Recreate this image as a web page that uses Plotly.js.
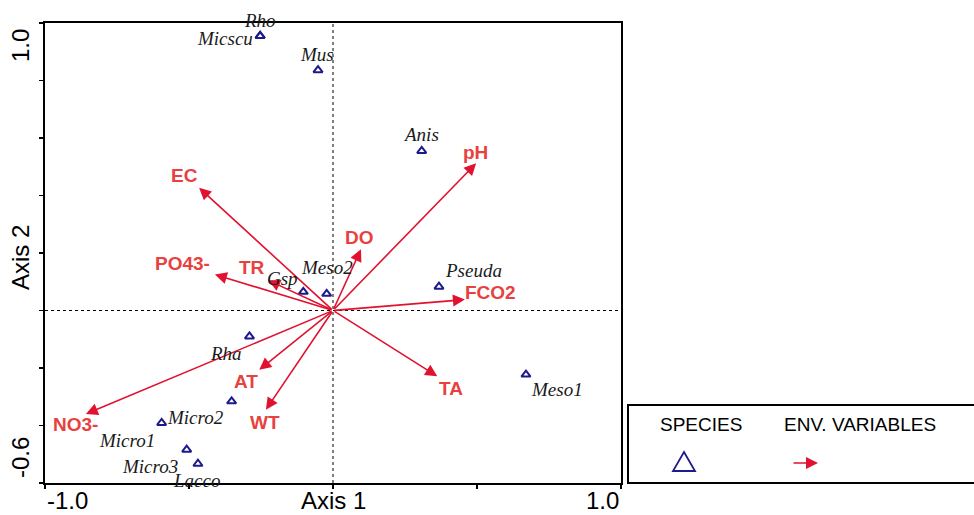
<!DOCTYPE html>
<html>
<head>
<meta charset="utf-8">
<script src="https://cdn.plot.ly/plotly-3.0.1.min.js"></script>
<style>html,body{margin:0;padding:0;background:#fff;}#chart{width:974px;height:515px;}</style>
</head>
<body>
<div id="chart"></div>
<script>
// ---- data ----
const speciesNames = ['Rho','Micscu','Mus','Anis','Pseuda','Meso1','Meso2','Gsp','Rha','Micro1','Micro2','Micro3','Lacco'];
const speciesX = [-0.253,-0.253,-0.052,0.308,0.368,0.670,-0.022,-0.103,-0.290,-0.595,-0.352,-0.508,-0.469];
const speciesY = [0.955,0.955,0.836,0.555,0.083,-0.223,0.058,0.065,-0.090,-0.391,-0.316,-0.484,-0.533];

const envNames = ['EC','pH','DO','PO43-','TR','NO3-','AT','WT','FCO2','TA'];
const envX = [-0.465,0.497,0.097,-0.410,-0.225,-0.858,-0.256,-0.233,0.458,0.362];
const envY = [0.427,0.512,0.213,0.125,0.105,-0.360,-0.206,-0.345,0.038,-0.229];

const xTickVals = [-1.0,-0.5,0,0.5,1.0];
const yTickVals = [-0.6,-0.4,-0.2,0,0.2,0.4,0.6,0.8,1.0];
const xEndLabels = ['-1.0','1.0'];
const yEndLabels = ['-0.6','1.0'];
const legendLabels = ['SPECIES','ENV. VARIABLES'];

// ---- label placement (pixel offsets, styling only) ----
const speciesLabelShift = [[0,15.5],[-35,-3],[-1,15.5],[-1,16.7],[34.5,16],[31,-15],[0,26],[-21,13],[-23,-17],[-35,-18],[-36,-16],[-37,-17],[-1,-16.5]];
const envLabelShift = [[-15,12],[-1,11],[-1,12],[-32,11],[-16,13],[-10,-10],[-13,-12],[-1,-12.5],[26,7],[14,-12]];

const ARROW = '#e1122f';
const LABEL_RED = '#e8413f';
const NAVY = '#1d1a8c';

const traces = [{
  type: 'scatter', mode: 'markers',
  x: speciesX, y: speciesY,
  marker: {symbol: 'triangle-up-open', size: 8, color: NAVY, line: {width: 2, color: NAVY}},
  hoverinfo: 'text', text: speciesNames, showlegend: false, cliponaxis: false
}];

const annotations = [];
// env arrows
envNames.forEach((n,i) => {
  annotations.push({
    x: envX[i], y: envY[i], xref: 'x', yref: 'y',
    ax: 0, ay: 0, axref: 'x', ayref: 'y',
    showarrow: true, arrowhead: 2, arrowsize: 1.5, arrowwidth: 1.6, arrowcolor: ARROW,
    text: ''
  });
  annotations.push({
    x: envX[i], y: envY[i], xref: 'x', yref: 'y', showarrow: false,
    xanchor: 'center', yanchor: 'middle',
    xshift: envLabelShift[i][0], yshift: envLabelShift[i][1],
    text: '<b>' + n + '</b>',
    font: {family: 'Liberation Sans, Arial', size: 19, color: LABEL_RED}
  });
});
// species labels
speciesNames.forEach((n,i) => {
  annotations.push({
    x: speciesX[i], y: speciesY[i], xref: 'x', yref: 'y', showarrow: false,
    xanchor: 'center', yanchor: 'middle',
    xshift: speciesLabelShift[i][0], yshift: speciesLabelShift[i][1],
    text: n,
    font: {family: 'Liberation Serif, Times New Roman', size: 19, color: '#1a1a1a', style: 'italic'}
  });
});
// axis end labels
const axisFont = {family: 'Liberation Sans, Arial', size: 24, color: '#000'};
annotations.push({xref:'paper', yref:'paper', x:0, y:0, xanchor:'left', yanchor:'top', yshift:-2, showarrow:false, text:xEndLabels[0], font:axisFont});
annotations.push({xref:'paper', yref:'paper', x:1, y:0, xanchor:'right', yanchor:'top', yshift:-2, showarrow:false, text:xEndLabels[1], font:axisFont});
annotations.push({xref:'paper', yref:'paper', x:0.5, y:0, xanchor:'center', yanchor:'top', yshift:-2, showarrow:false, text:'Axis 1', font:axisFont});
annotations.push({xref:'paper', yref:'paper', x:0, y:0, xanchor:'right', yanchor:'bottom', xshift:-9, yshift:3, showarrow:false, text:yEndLabels[0], textangle:-90, font:axisFont});
annotations.push({xref:'paper', yref:'paper', x:0, y:1, xanchor:'right', yanchor:'top', xshift:-9, yshift:-4, showarrow:false, text:yEndLabels[1], textangle:-90, font:axisFont});
annotations.push({xref:'paper', yref:'paper', x:0, y:0.49, xanchor:'right', yanchor:'middle', xshift:-9, showarrow:false, text:'Axis 2', textangle:-90, font:axisFont});

// legend (paper coords: px -> (px-45)/576, py -> (483-py)/460)
const px = p => (p - 45) / 576;
const py = p => (483 - p) / 460;
const legFont = {family: 'Liberation Sans, Arial', size: 19, color: '#000'};
annotations.push({xref:'paper', yref:'paper', x:px(701), y:py(424), xanchor:'center', yanchor:'middle', showarrow:false, text:legendLabels[0], font:legFont});
annotations.push({xref:'paper', yref:'paper', x:px(860), y:py(424), xanchor:'center', yanchor:'middle', showarrow:false, text:legendLabels[1], font:legFont});
annotations.push({xref:'paper', yref:'paper', x:px(818), y:py(463), ax:-26, ay:0, showarrow:true, arrowhead:2, arrowsize:1.5, arrowwidth:1.6, arrowcolor:ARROW, text:''});

const shapes = [
  {type:'line', xref:'x', yref:'paper', x0:0, x1:0, y0:0, y1:1, line:{color:'#000', width:1, dash:'dot'}},
  {type:'line', xref:'paper', yref:'y', x0:0, x1:1, y0:0, y1:0, line:{color:'#000', width:1, dash:'dot'}},
  {type:'rect', xref:'paper', yref:'paper', x0:px(628), x1:px(990), y0:py(483), y1:py(405), line:{color:'#000', width:2}},
  {type:'path', xref:'paper', yref:'paper',
   path:`M ${px(684)} ${py(452)} L ${px(695)} ${py(471)} L ${px(673)} ${py(471)} Z`,
   line:{color:NAVY, width:1.8}}
];

const layout = {
  width: 974, height: 515,
  margin: {l: 45, r: 353, t: 23, b: 32, pad: 0},
  paper_bgcolor: '#fff', plot_bgcolor: '#fff',
  showlegend: false,
  xaxis: {range: [-1, 1], showgrid: false, zeroline: false, showline: true, linecolor: '#000', linewidth: 2, mirror: true,
          ticks: 'outside', ticklen: 4, tickwidth: 1.5, tickcolor: '#000', tickvals: xTickVals, showticklabels: false, fixedrange: true},
  yaxis: {range: [-0.6, 1.0], showgrid: false, zeroline: false, showline: true, linecolor: '#000', linewidth: 2, mirror: true,
          ticks: 'outside', ticklen: 4, tickwidth: 1.5, tickcolor: '#000', tickvals: yTickVals, showticklabels: false, fixedrange: true},
  annotations: annotations,
  shapes: shapes
};

Plotly.newPlot('chart', traces, layout, {displayModeBar: false, staticPlot: true});
</script>
</body>
</html>
